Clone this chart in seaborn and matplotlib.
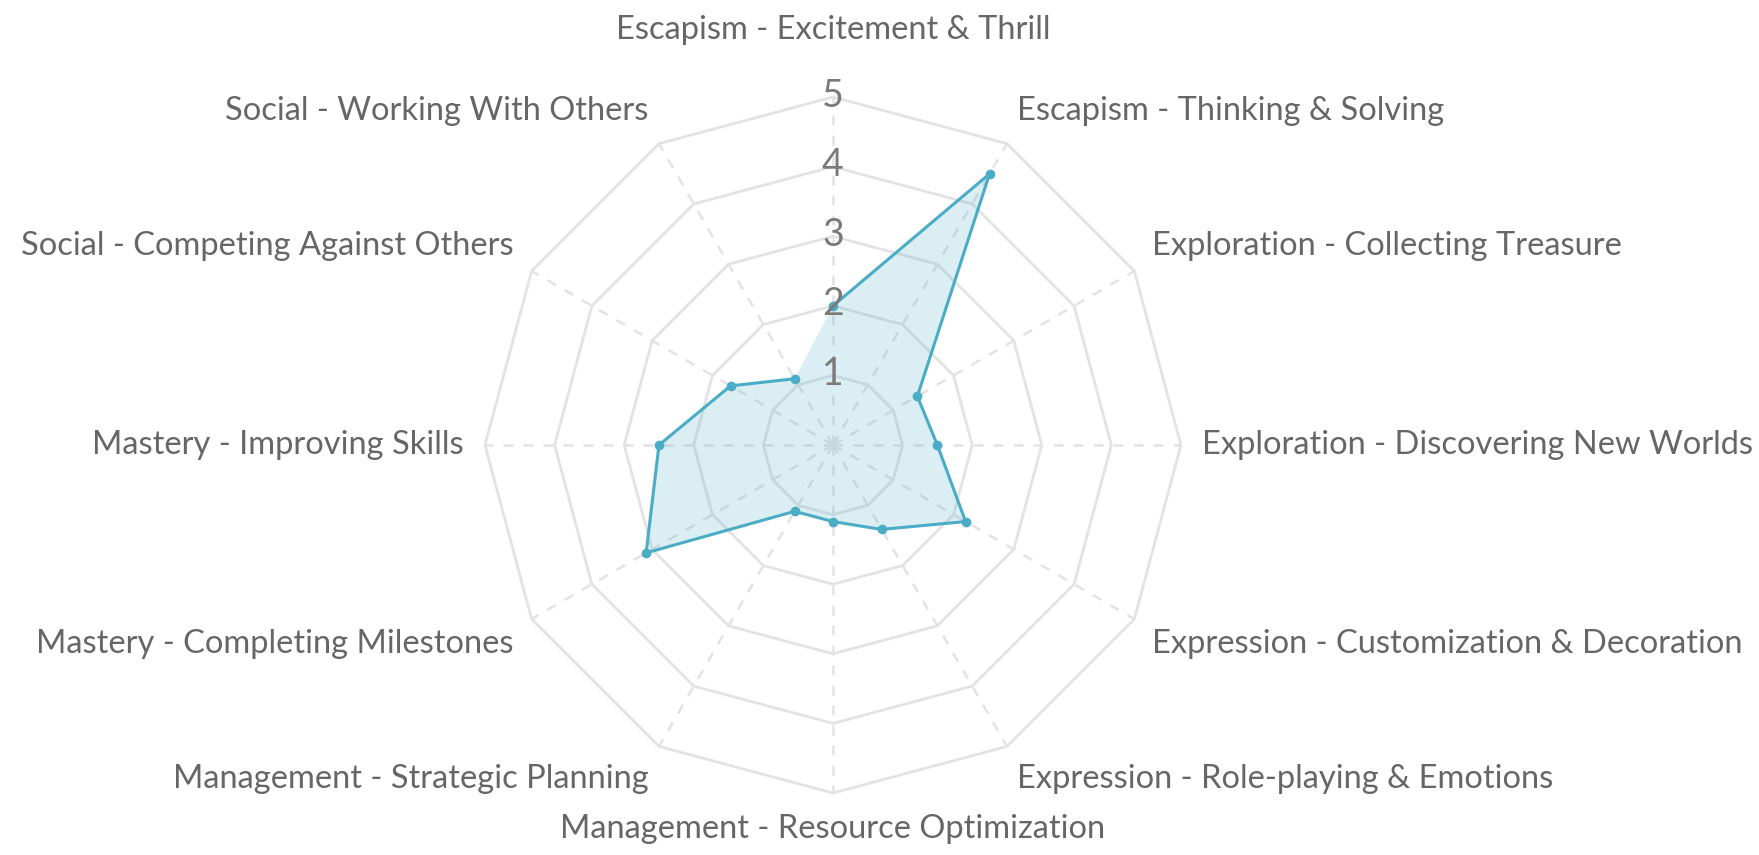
import numpy as np
import matplotlib.pyplot as plt
import seaborn as sns

sns.set_style('white')
plt.rcParams['font.family'] = ['Lato', 'DejaVu Sans']

# categories, clockwise from the top
categories = [
    'Escapism - Excitement & Thrill',
    'Escapism - Thinking & Solving',
    'Exploration - Collecting Treasure',
    'Exploration - Discovering New Worlds',
    'Expression - Customization & Decoration',
    'Expression - Role-playing & Emotions',
    'Management - Resource Optimization',
    'Management - Strategic Planning',
    'Mastery - Completing Milestones',
    'Mastery - Improving Skills',
    'Social - Competing Against Others',
    'Social - Working With Others',
]
scores = [2.0, 4.5, 1.4, 1.5, 2.2, 1.4, 1.1, 1.1, 3.1, 2.5, 1.7, 1.1]
ring_levels = [1, 2, 3, 4, 5]

line_color = '#4bacc6'
grid_color = '#e3e3e3'
text_color = '#666666'

n = len(categories)
theta = np.arange(n) * 2 * np.pi / n
theta_closed = np.append(theta, theta[0])
scores_closed = scores + scores[:1]

fig = plt.figure(figsize=(17.59, 8.55), dpi=100)
ax = fig.add_axes([0.2757, 0.0725, 0.3957, 0.814], projection='polar')
ax.set_theta_zero_location('N')
ax.set_theta_direction(-1)
ax.set_ylim(0, 5)
ax.grid(False)
ax.set_xticks([])
ax.set_yticks([])
ax.spines['polar'].set_visible(False)
ax.set_facecolor('none')

# polygon rings and dashed spokes
for lvl in ring_levels:
    ax.plot(theta_closed, [lvl] * (n + 1), color=grid_color, lw=2, clip_on=False, zorder=1)
for t in theta:
    ax.plot([t, t], [0, 5], color=grid_color, lw=1.8, ls=(0, (4, 4)), clip_on=False, zorder=1)

# data
ax.fill(theta_closed, scores_closed, color=line_color, alpha=0.2, lw=0, zorder=2)
sns.lineplot(x=theta_closed, y=scores_closed, sort=False, ax=ax, color=line_color,
             lw=2.2, marker='o', markersize=7, markeredgewidth=0, zorder=3)
ax.set_xlabel('')
ax.set_ylabel('')

# tick numbers on the top axis
for lvl in ring_levels:
    ax.text(0, lvl + 0.02, str(lvl), ha='center', va='center', fontsize=27,
            color='#7a7a7a', zorder=4)

# category labels
for i, (t, lab) in enumerate(zip(theta, categories)):
    deg = i * 360 / n
    if deg == 0 or deg == 180:
        ha = 'center'
    elif deg < 180:
        ha = 'left'
    else:
        ha = 'right'
    if deg == 90 or deg == 270:
        va = 'center'
    elif deg < 90 or deg > 270:
        va = 'bottom'
    else:
        va = 'top'
    r = 5.75 if i == 0 else 5.3
    ax.text(t, r, lab, ha=ha, va=va, fontsize=23.5, color=text_color, clip_on=False)

fig.savefig('out.png', dpi=100)
